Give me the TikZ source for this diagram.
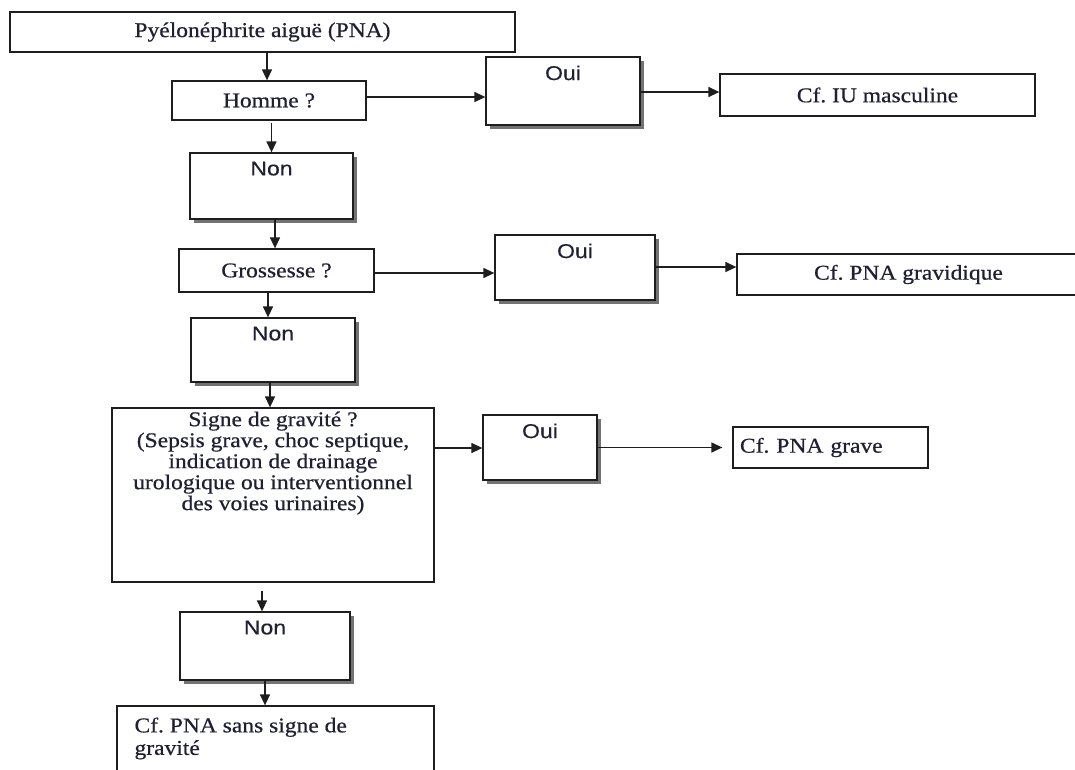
\documentclass[tikz,border=0pt]{standalone}
\usepackage{fontspec}
\setmainfont{Liberation Serif}[FakeStretch=1.12, FakeBold=0.6]
\newfontfamily\ouifont{Liberation Sans}[FakeStretch=1.15, FakeBold=0.4]
\usetikzlibrary{arrows.meta,shadows,calc}
\definecolor{txt}{RGB}{32,32,52}
\definecolor{linec}{RGB}{30,30,30}
\frenchspacing
\tikzset{
  box/.style={draw=linec, line width=1.3pt, fill=white, inner sep=0pt, text=txt,
    font=\fontsize{21}{21}\selectfont, align=center},
  shbox/.style={box, drop shadow={shadow xshift=3.5pt, shadow yshift=-3.5pt, fill=black!55, opacity=1}},
  toptext/.style={anchor=north, inner sep=0pt, yshift=-9pt, text=txt, font=\ouifont\fontsize{20}{22}\selectfont},
  sertop/.style={anchor=north, inner sep=0pt, text=txt, align=center, font=\fontsize{21}{21}\selectfont},
  arr/.style={-{Triangle[length=11pt,width=10pt]}, line width=1.3pt, draw=linec}
}
\begin{document}
\begin{tikzpicture}[x=1pt,y=1pt]
\useasboundingbox (0,0) rectangle (1075,-769);
\fill[white] (0,0) rectangle (1075,-769);
\clip (0,0) rectangle (1075,-769);

% main column
\node[box, minimum width=505pt, minimum height=40pt] (title) at (262.5,-32) {Pyélonéphrite aiguë (PNA)};
\node[box, minimum width=194pt, minimum height=39pt] (homme) at (269,-100.5) {Homme ?};
\node[shbox, minimum width=163pt, minimum height=66pt,
  label={[toptext]north:Non}] (non1) at (271.5,-186) {};
\node[box, minimum width=195pt, minimum height=43pt] (gross) at (276.5,-270.5) {Grossesse ?};
\node[shbox, minimum width=164pt, minimum height=64pt,
  label={[toptext]north:Non}] (non2) at (273,-350) {};
\node[box, minimum width=322pt, minimum height=174pt,
  label={[sertop, yshift=-4pt]north:Signe de gravité ?\\(Sepsis grave, choc septique,\\indication de drainage\\urologique ou interventionnel\\des voies urinaires)}] (signe) at (273,-495) {};
\node[shbox, minimum width=170pt, minimum height=68pt,
  label={[toptext]north:Non}] (non3) at (265,-646) {};
\node[box, minimum width=317pt, minimum height=78pt,
  label={[anchor=north west, inner sep=0pt, align=left, text=txt, font=\fontsize{21}{22.5}\selectfont, xshift=18pt, yshift=-12pt]north west:Cf. PNA sans signe de\\gravité}] (final) at (275.5,-745) {};

% right side
\node[shbox, minimum width=154pt, minimum height=68pt,
  label={[toptext]north:Oui}] (oui1) at (563,-91) {};
\node[box, minimum width=315pt, minimum height=42pt] (cfiu) at (877.5,-95) {Cf. IU masculine};
\node[shbox, minimum width=160pt, minimum height=65pt,
  label={[toptext]north:Oui}] (oui2) at (575,-267.5) {};
\node[box, minimum width=343pt, minimum height=41pt] (cfgrav) at (908.5,-274.5) {Cf. PNA gravidique};
\node[shbox, minimum width=114pt, minimum height=65pt,
  label={[toptext]north:Oui}] (oui3) at (540,-447.5) {};
\node[box, minimum width=195pt, minimum height=41pt, text width=181pt, inner xsep=7pt, align=left] (cfgrave) at (830.5,-447.5) {Cf. PNA grave};

% vertical connectors
\draw[arr] ($(homme.north|-title.south)+(-2,0)$) -- ($(homme.north)+(-2,0)$);
\draw[arr] ($(non1.north|-homme.south)+(0,-2)$) -- (non1.north);
\draw[arr] ($(non1.south)+(3.5,0)$) -- ($(gross.north)+(-1.5,0)$);
\draw[arr] ($(gross.south)+(-8.5,0)$) -- ($(non2.north)+(-5,0)$);
\draw[arr] ($(non2.south)+(-3,0)$) -- ($(signe.north)+(-3,0)$);
\draw[arr] ($(signe.south)+(-11,-8)$) -- ($(non3.north)+(-3,0)$);
\draw[arr] (non3.south) -- ($(final.north)+(-10.5,0)$);

% horizontal connectors
\draw[arr] ($(homme.east)+(0,3.5)$) -- ($(oui1.west)+(0,-6)$);
\draw[arr] ($(oui1.east)+(0,-1)$) -- ($(cfiu.west)+(0,3)$);
\draw[arr] ($(gross.east)+(0,-2.5)$) -- ($(oui2.west)+(0,-5.5)$);
\draw[arr] ($(oui2.east)+(0,0.5)$) -- ($(cfgrav.west)+(0,7.5)$);
\draw[arr] ($(signe.east)+(0,47)$) -- ($(oui3.west)+(0,-0.5)$);
\draw[arr, shorten >=10pt] (oui3.east) -- (cfgrave.west);
\end{tikzpicture}
\end{document}
